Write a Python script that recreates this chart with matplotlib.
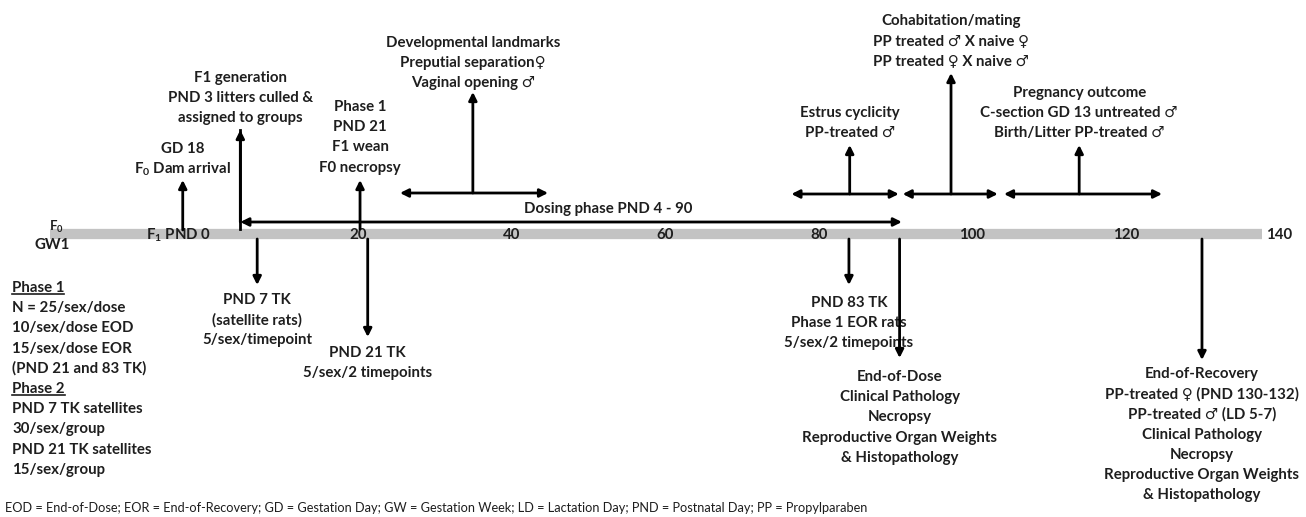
import matplotlib
matplotlib.use('Agg')
import matplotlib.pyplot as plt
from matplotlib.lines import Line2D

FONT = ['Lato', 'DejaVu Sans']
plt.rcParams['font.family'] = FONT
plt.rcParams['mathtext.fontset'] = 'custom'
plt.rcParams['mathtext.rm'] = 'Lato:bold'
plt.rcParams['mathtext.it'] = 'Lato:bold'
plt.rcParams['mathtext.bf'] = 'Lato:bold'

# ---------------- data (study days on the timeline) ----------------
timeline_start, timeline_end = -20.2, 137.7
tick_values = [20, 40, 60, 80, 100, 120, 140]
dosing_start, dosing_end = 4.6, 90.8
dam_arrival_day = -2.9
f1_generation_day = 4.6
phase1_pnd21_day = 20.2
pnd7_tk_day = 6.8
pnd21_tk_day = 21.2
pnd83_tk_day = 83.9
end_of_dose_day = 90.5
end_of_recovery_day = 129.9
# (start, end, marker) of the double-headed spans
dev_landmarks_span = (25.4, 44.7, 34.9)
estrus_span = (76.4, 90.4, 84.0)
cohab_span = (90.9, 103.3, 97.2)
pregnancy_span = (104.1, 124.7, 113.9)

# ---------------- texts ----------------
dam_text = ['GD 18', r'F$_{0}$ Dam arrival']
f1_text = ['F1 generation', 'PND 3 litters culled &', 'assigned to groups']
phase1_text = ['Phase 1', 'PND 21', 'F1 wean', 'F0 necropsy']
dev_text = ['Developmental landmarks', 'Preputial separation\u2640', 'Vaginal opening \u2642']
estrus_text = ['Estrus cyclicity', 'PP-treated \u2642']
cohab_text = ['Cohabitation/mating', 'PP treated \u2642 X naive \u2640', 'PP treated \u2640 X naive \u2642']
preg_text = ['Pregnancy outcome', 'C-section GD 13 untreated \u2642', 'Birth/Litter PP-treated \u2642']
pnd7_text = ['PND 7 TK', '(satellite rats)', '5/sex/timepoint']
pnd21_text = ['PND 21 TK', '5/sex/2 timepoints']
pnd83_text = ['PND 83 TK', 'Phase 1 EOR rats', '5/sex/2 timepoints']
eod_text = ['End-of-Dose', 'Clinical Pathology', 'Necropsy',
            'Reproductive Organ Weights', '& Histopathology']
eor_text = ['End-of-Recovery', 'PP-treated \u2640 (PND 130-132)', 'PP-treated \u2642 (LD 5-7)',
            'Clinical Pathology', 'Necropsy', 'Reproductive Organ Weights', '& Histopathology']
left_text = ['Phase 1', 'N = 25/sex/dose', '10/sex/dose EOD', '15/sex/dose EOR',
             '(PND 21 and 83 TK)', 'Phase 2', 'PND 7 TK satellites', '30/sex/group',
             'PND 21 TK satellites', '15/sex/group']
underlined = {'Phase 1', 'Phase 2'}
dosing_label = 'Dosing phase PND 4 - 90'
footer = ('EOD = End-of-Dose; EOR = End-of-Recovery; GD = Gestation Day; GW = Gestation Week; '
          'LD = Lactation Day; PND = Postnatal Day; PP = Propylparaben')

# ---------------- layout ----------------
W, H = 1306, 517
PPD = 7.675          # pixels per day
X0 = 205             # pixel position of day 0
fig = plt.figure(figsize=(W / 100, H / 100), dpi=100)
ax = fig.add_axes([0, 0, 1, 1])
ax.set_xlim(-X0 / PPD, (W - X0) / PPD)
ax.set_ylim(H, 0)
ax.axis('off')

FS = 10.8
TC = '#1e1e1e'
LSTEP = 20.2
BAR_Y, BAR_TOP, BAR_BOT = 234, 229, 239


def px(p):
    """pixel x -> day"""
    return (p - X0) / PPD


def block(x, y0, lines, ha='center', fs=FS, weight='bold', step=LSTEP):
    objs = []
    for i, s in enumerate(lines):
        objs.append(ax.text(x, y0 + i * step, s, ha=ha, va='center', fontsize=fs,
                            fontweight=weight, color=TC))
    return objs


def arrow(x, y_from, y_to, style='-|>', x_to=None):
    ax.annotate('', xy=(x if x_to is None else x_to, y_to), xytext=(x, y_from),
                arrowprops=dict(arrowstyle=style, color='black', lw=2.0,
                                mutation_scale=12, shrinkA=0, shrinkB=0))


# timeline bar
ax.plot([timeline_start, timeline_end], [BAR_Y, BAR_Y], color='#c3c3c3', lw=7.4,
        solid_capstyle='butt', zorder=1)
for t in tick_values:
    ax.text(t, BAR_Y + 1, str(t), ha='center', va='center', fontsize=FS,
            fontweight='bold', color=TC, zorder=3)
ax.text(0.8, BAR_Y + 1, r'F$_{1}$ PND 0', ha='right', va='center', fontsize=FS,
        fontweight='bold', color=TC, zorder=3)
ax.text(px(56), 227, r'F$_{0}$', ha='center', va='center', fontsize=9.5,
        fontweight='bold', color=TC, zorder=3)
ax.text(px(52), 245, 'GW1', ha='center', va='center', fontsize=FS,
        fontweight='bold', color=TC, zorder=3)

# dosing phase arrow
ax.plot([f1_generation_day, f1_generation_day], [130, BAR_TOP], color='black', lw=2.0)
arrow(dosing_start, 222, 222, style='<|-|>', x_to=dosing_end)
ax.text(px(608), 209, dosing_label, ha='center', va='center', fontsize=FS,
        fontweight='bold', color=TC)

# upward events
arrow(dam_arrival_day, BAR_TOP + 1, 180)
block(dam_arrival_day, 149, dam_text)
arrow(f1_generation_day, 222, 130)
block(f1_generation_day, 78, f1_text)
arrow(phase1_pnd21_day, BAR_TOP, 180)
block(phase1_pnd21_day, 107, phase1_text)

# spans with markers
for (s, e, m), top, txt, y0 in [(dev_landmarks_span, 92, dev_text, 43),
                                (estrus_span, 145, estrus_text, 113),
                                (cohab_span, 73, cohab_text, 21),
                                (pregnancy_span, 145, preg_text, 93)]:
    y = 193 if s < 50 else 194
    arrow(s, y, y, style='<|-|>', x_to=e)
    arrow(m, y, top)
    block(m, y0, txt)

# downward events
arrow(pnd7_tk_day, BAR_BOT, 285)
block(pnd7_tk_day, 300, pnd7_text)
arrow(pnd21_tk_day, BAR_BOT, 337)
block(pnd21_tk_day, 353, pnd21_text)
arrow(pnd83_tk_day, BAR_BOT, 285)
block(pnd83_tk_day, 303, pnd83_text)
arrow(end_of_dose_day, BAR_BOT, 358)
block(end_of_dose_day, 377, eod_text)
arrow(end_of_recovery_day, BAR_BOT, 360)
block(end_of_recovery_day, 374, eor_text)

# left description block
left_objs = block(px(12), 288, left_text, ha='left')

# footer
ax.text(px(5), 508, footer, ha='left', va='center', fontsize=9.2,
        fontweight='normal', color=TC)

# underline Phase headers
fig.canvas.draw()
renderer = fig.canvas.get_renderer()
inv = ax.transData.inverted()
for t in left_objs:
    if t.get_text() in underlined:
        bb = t.get_window_extent(renderer)
        (x1, y1), (x2, _) = inv.transform([(bb.x0, bb.y0), (bb.x1, bb.y0)])
        ax.add_line(Line2D([x1, x2], [y1 - 1, y1 - 1], color=TC, lw=1.2))

fig.savefig('out.png', dpi=100)
